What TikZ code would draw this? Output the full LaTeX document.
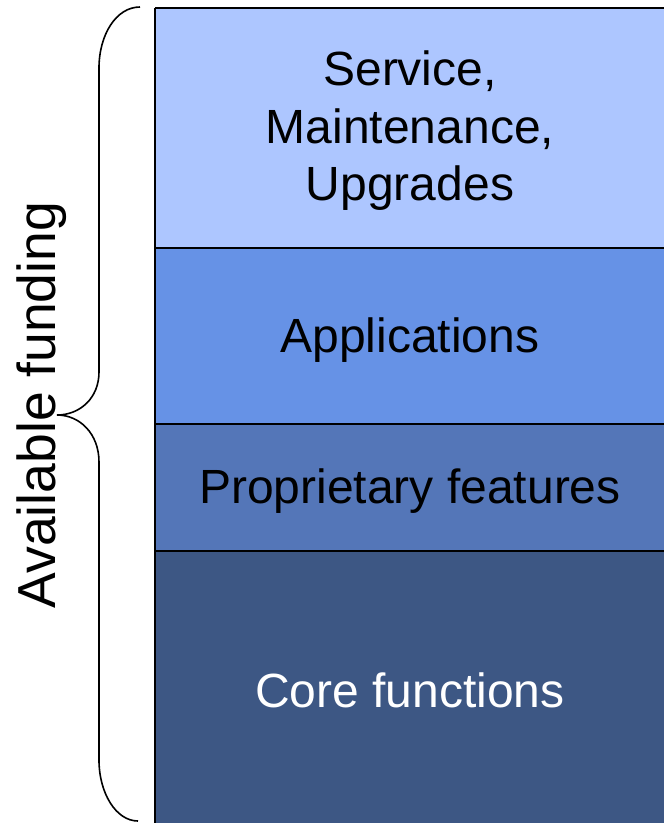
\documentclass[tikz,border=0pt]{standalone}
\usepackage{fontspec}
\setmainfont{Liberation Sans}
\definecolor{cA}{RGB}{173,198,255}
\definecolor{cB}{RGB}{102,146,230}
\definecolor{cC}{RGB}{84,118,184}
\definecolor{cD}{RGB}{61,87,132}
\begin{document}
\begin{tikzpicture}[x=1pt,y=-1pt,
  band/.style={fill=#1, draw=none, inner sep=0pt, minimum width=509pt, anchor=north west},
  lbl/.style={font=\fontsize{48}{57.5}\selectfont, align=center},
  side/.style={font=\fontsize{53.5}{60}\selectfont},
  edge/.style={line width=2.4pt, black},
  bracestyle/.style={line width=1.6pt, black}]
\useasboundingbox (0,0) rectangle (664,823);
\node[band=cA, minimum height=240pt] (svc) at (155,8) {};
\node[band=cB, minimum height=176pt] (app) at (155,248) {};
\node[band=cC, minimum height=127pt] (prop) at (155,424) {};
\node[band=cD, minimum height=272pt] (core) at (155,551) {};
\node[lbl] (tsvc) at (410,131) {Service,\\Maintenance,\\Upgrades};
\node[lbl] (tapp) at (410,340) {Applications};
\node[lbl] (tprop) at (410,491) {Proprietary features};
\node[lbl, text=white] (tcore) at (410,690) {Core functions};
\draw[edge] (svc.north west) -- ++(520,0);
\draw[edge] (svc.north west) -- ++(0,830);
\draw[edge] (app.north west) -- ++(520,0);
\draw[edge] (prop.north west) -- ++(520,0);
\draw[edge] (core.north west) -- ++(520,0);
\coordinate (btop) at (140,7);
\coordinate (btip) at (57,415);
\coordinate (bbot) at (138,821);
\draw[bracestyle] (btop) .. controls (116,7) and (99,35) .. (99,68)
  -- (99,372) .. controls (99,398) and (80,415) .. (btip)
  .. controls (80,415) and (99,434) .. (99,462)
  -- (99,760) .. controls (99,793) and (116,821) .. (bbot);
\node[side, rotate=90, anchor=base, inner sep=0pt] (avail) at (55,405) {Available funding};
\end{tikzpicture}
\end{document}
